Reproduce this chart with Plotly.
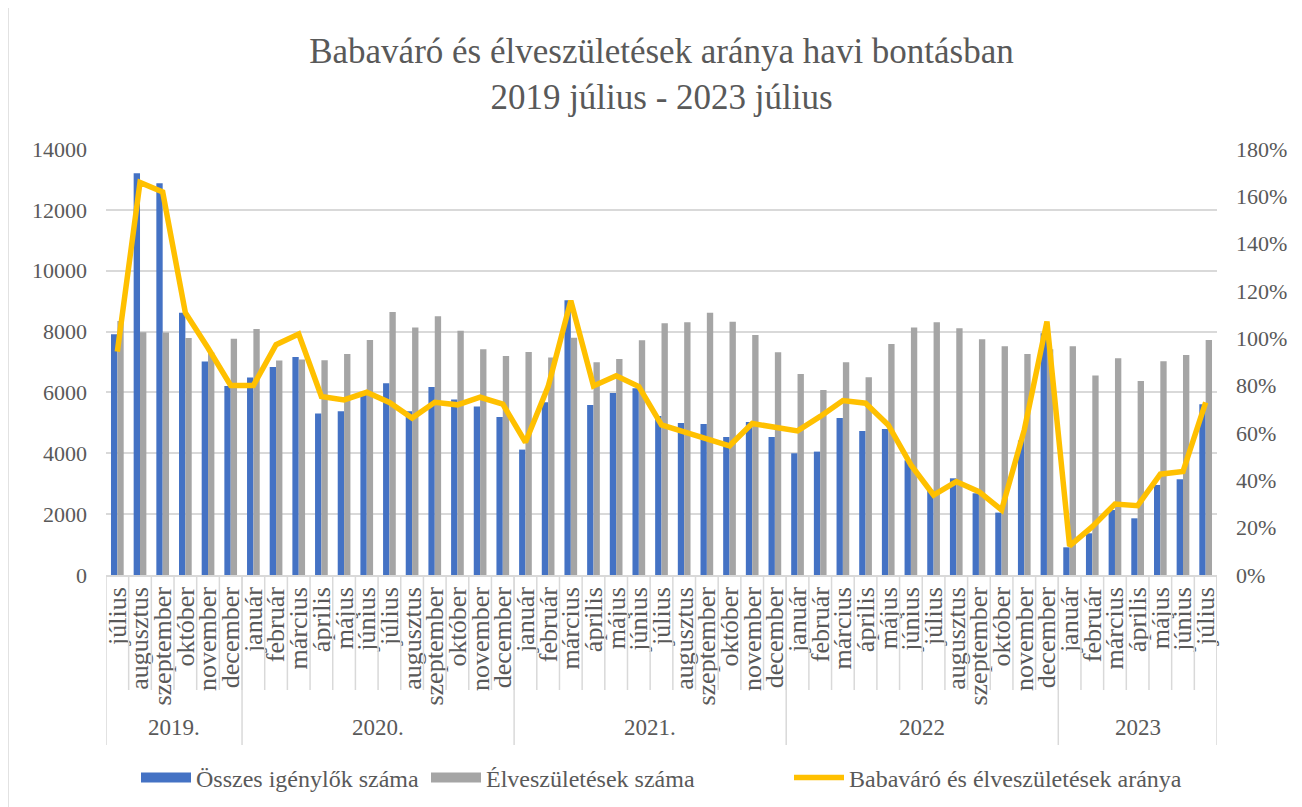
import plotly.graph_objects as go

months = ["július", "augusztus", "szeptember", "október", "november", "december",
          "január", "február", "március", "április", "május", "június", "július",
          "augusztus", "szeptember", "október", "november", "december",
          "január", "február", "március", "április", "május", "június", "július",
          "augusztus", "szeptember", "október", "november", "december",
          "január", "február", "március", "április", "május", "június", "július",
          "augusztus", "szeptember", "október", "november", "december",
          "január", "február", "március", "április", "május", "június", "július"]

years = ["2019."] * 6 + ["2020."] * 12 + ["2021."] * 12 + ["2022"] * 12 + ["2023"] * 7

igenylok = [7913, 13207, 12878, 8615, 7014, 6214, 6488, 6839, 7168, 5305,
            5381, 5960, 6302, 5381, 6181, 5765, 5535, 5195, 4121, 5677,
            9031, 5590, 5984, 6138, 5228, 4998, 4965, 4537, 5031, 4537,
            4000, 4055, 5162, 4735, 4800, 3770, 2800, 3178, 2685, 2050,
            4420, 7946, 910, 1370, 2137, 1863, 2959, 3146, 5612]

elveszuletes = [8351, 7979, 7968, 7792, 7310, 7760, 8088, 7047, 7080, 7058,
                7266, 7727, 8647, 8132, 8505, 8023, 7420, 7201, 7332, 7146,
                7793, 6992, 7102, 7716, 8275, 8308, 8615, 8319, 7891, 7321,
                6609, 6083, 6992, 6499, 7595, 8132, 8308, 8110, 7749, 7519,
                7266, 7420, 7519, 6554, 7124, 6379, 7025, 7234, 7727]

arany = [0.944, 1.659, 1.618, 1.108, 0.959, 0.801, 0.801, 0.973, 1.018, 0.754,
         0.740, 0.772, 0.729, 0.663, 0.730, 0.719, 0.751, 0.722, 0.561, 0.796,
         1.159, 0.799, 0.842, 0.796, 0.634, 0.606, 0.578, 0.546, 0.640, 0.624,
         0.609, 0.670, 0.737, 0.726, 0.634, 0.465, 0.338, 0.395, 0.352, 0.275,
         0.613, 1.071, 0.123, 0.204, 0.300, 0.293, 0.426, 0.437, 0.729]

FONT = "Liberation Serif"
TXT = "#595959"
GRID = "#d9d9d9"
BLUE = "#4472C4"
GRAY = "#A5A5A5"
GOLD = "#FFC000"

idx = list(range(len(months)))

fig = go.Figure()
fig.add_trace(go.Bar(x=idx, y=igenylok, name="Összes igénylők száma",
                     legendgroup="a", showlegend=False,
                     marker=dict(color=BLUE, line=dict(width=0))))
fig.add_trace(go.Bar(x=idx, y=elveszuletes, name="Élveszületések száma",
                     legendgroup="b", showlegend=False,
                     marker=dict(color=GRAY, line=dict(width=0))))
fig.add_trace(go.Scatter(x=idx, y=arany, name="Babaváró és élveszületések aránya",
                         mode="lines", yaxis="y2", legendgroup="c", showlegend=False,
                         line=dict(color=GOLD, width=5.5)))
# legend entries (wide swatches like the original)
fig.add_trace(go.Scatter(x=[None], y=[None], mode="lines", name="Összes igénylők száma",
                         legendgroup="a", legend="legend", line=dict(color=BLUE, width=11)))
fig.add_trace(go.Scatter(x=[None], y=[None], mode="lines", name="Élveszületések száma",
                         legendgroup="b", legend="legend2", line=dict(color=GRAY, width=11)))
fig.add_trace(go.Scatter(x=[None], y=[None], mode="lines",
                         name="Babaváró és élveszületések aránya",
                         legendgroup="c", legend="legend3", line=dict(color=GOLD, width=5.5)))

# year groups
groups = []
for i, yv in enumerate(years):
    if not groups or groups[-1][0] != yv:
        groups.append([yv, i, i])
    else:
        groups[-1][2] = i

PW = 1111.0
PH = 426.0
shapes = []
annotations = []
y_month_bottom = -(690 - 575) / PH
y_year_bottom = -(745 - 575) / PH
for name, s, e in groups:
    annotations.append(dict(x=(s + e) / 2, y=-(727 - 575) / PH, xref="x", yref="paper",
                            text=name, showarrow=False, yanchor="middle",
                            font=dict(family=FONT, size=23, color=TXT)))
    shapes.append(dict(type="line", xref="x", yref="paper", x0=s - 0.5, x1=s - 0.5,
                       y0=0, y1=y_year_bottom, line=dict(color=GRID, width=1.5)))
shapes.append(dict(type="line", xref="x", yref="paper", x0=groups[-1][2] + 0.5,
                   x1=groups[-1][2] + 0.5, y0=0, y1=y_year_bottom,
                   line=dict(color=GRID, width=1.5)))
for i in idx:
    shapes.append(dict(type="line", xref="x", yref="paper", x0=i + 0.5, x1=i + 0.5,
                       y0=0, y1=y_month_bottom, line=dict(color=GRID, width=1.5)))
# chart border (left edge visible)
shapes.append(dict(type="line", xref="paper", yref="paper",
                   x0=(8 - 106) / PW, x1=(8 - 106) / PW,
                   y0=(575 - 807) / PH, y1=(575 - 0) / PH,
                   line=dict(color=GRID, width=1.5)))

leg_common = dict(orientation="h", xanchor="left", y=-(778 - 575) / PH, yanchor="middle",
                  font=dict(family=FONT, size=24, color=TXT), itemwidth=50,
                  bgcolor="rgba(0,0,0,0)")

fig.update_layout(
    width=1302, height=807,
    paper_bgcolor="white", plot_bgcolor="white",
    margin=dict(l=98, r=93, t=141, b=240, autoexpand=False),
    barmode="group", bargap=0.44, bargroupgap=0,
    title=dict(text="Babaváró és élveszületések aránya havi bontásban<br>2019 július - 2023 július",
               x=0.5, xref="paper", xanchor="center",
               y=1 - 55 / 807, yref="container", yanchor="top",
               font=dict(family=FONT, size=35, color=TXT)),
    font=dict(family=FONT, color=TXT),
    xaxis=dict(tickmode="array", tickvals=idx, ticktext=months, tickangle=-90,
               range=[-0.5, len(idx) - 0.5], showgrid=False, ticks="",
               showline=True, linecolor=GRID, linewidth=1.5,
               tickfont=dict(family=FONT, size=26, color=TXT), zeroline=False),
    yaxis=dict(range=[0, 14000], dtick=2000, showgrid=True, gridcolor=GRID, gridwidth=1.5,
               tickfont=dict(family=FONT, size=22, color=TXT), ticks="",
               showline=False, zeroline=False, tickformat="d", ticklabelstandoff=18),
    yaxis2=dict(range=[0, 1.8], dtick=0.2, overlaying="y", side="right",
                tickformat=".0%", showgrid=False, zeroline=False,
                tickfont=dict(family=FONT, size=22, color=TXT), ticks="",
                ticklabelstandoff=18),
    legend=dict(x=(142 - 6 - 106) / PW, **leg_common),
    legend2=dict(x=(432 - 6 - 106) / PW, **leg_common),
    legend3=dict(x=(795 - 6 - 106) / PW, **leg_common),
    shapes=shapes, annotations=annotations,
    showlegend=True,
)

fig.write_html("out.html")
